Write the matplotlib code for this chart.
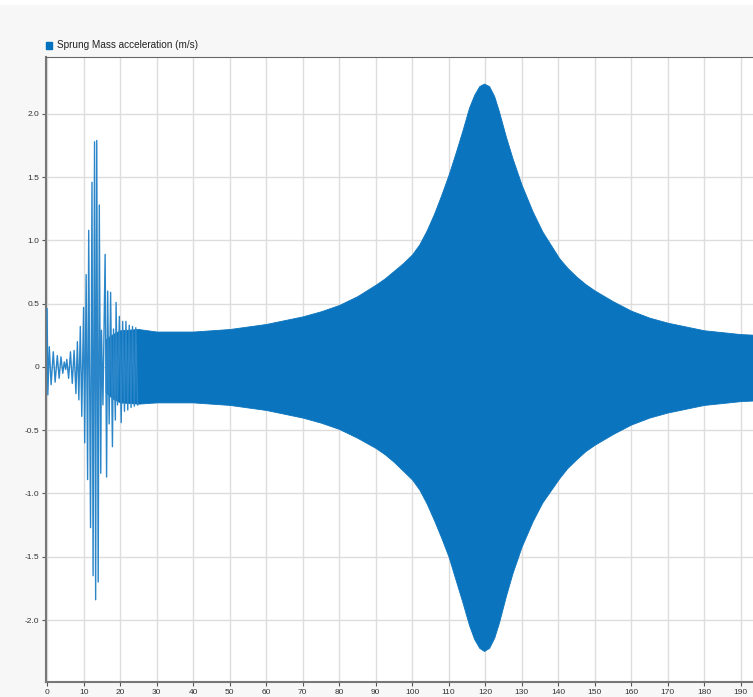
import numpy as np
import matplotlib
matplotlib.use("Agg")
import matplotlib.pyplot as plt
from matplotlib.patches import Rectangle

plt.rcParams['font.family'] = ['Liberation Sans', 'DejaVu Sans']

# start-up transient: successive peaks/troughs
trans_t = [0.0, 0.2, 0.6, 1.1, 1.7, 2.2, 2.8, 3.3, 3.8, 4.3, 4.7, 5.1, 5.4, 5.9,
           6.4, 6.9, 7.4, 7.9, 8.3, 8.7, 9.1, 9.5, 10.0, 10.3, 10.7, 11.1, 11.4,
           11.9, 12.3, 12.6, 13.0, 13.3, 13.6, 14.0, 14.3, 14.7, 14.9, 15.3,
           15.9, 16.3, 16.6, 17.0, 17.4, 17.9, 18.2, 18.7, 18.9, 19.3, 19.8,
           20.3, 20.7, 21.2, 21.6, 22.1, 22.5, 23.0, 23.4, 23.9, 24.3, 24.8]
trans_v = [0.46, -0.22, 0.16, -0.14, 0.12, -0.12, 0.09, -0.09, 0.08, -0.05,
           0.04, -0.02, 0.06, -0.09, 0.12, -0.13, 0.13, -0.21, 0.20, -0.26,
           0.32, -0.39, 0.47, -0.60, 0.73, -0.89, 1.08, -1.27, 1.46, -1.65,
           1.78, -1.84, 1.79, -1.70, 1.28, -0.84, 0.29, -0.30, 0.89, -0.87,
           0.60, -0.45, 0.59, -0.63, 0.30, -0.42, 0.51, -0.30, 0.40, -0.44,
           0.36, -0.35, 0.36, -0.34, 0.33, -0.32, 0.32, -0.31, 0.31, -0.30]

# dense oscillation band: upper / lower envelope
band_t = [16, 18, 20, 25, 30, 40, 50, 60, 70, 75, 80, 85, 90, 92.5, 95,
          97.5, 100, 102, 104, 106, 108, 110, 112, 113.8, 115.6, 117, 118.4,
          119.7, 121.1, 122.5, 123.8, 125.7, 127.5, 130, 133, 135.7, 140.3,
          142.5, 145, 147.5, 150, 155, 160, 165, 170, 175, 180, 185, 190, 193.5]
band_hi = [0.22, 0.26, 0.29, 0.30, 0.28, 0.28, 0.30, 0.34, 0.40, 0.44, 0.49,
           0.56, 0.65, 0.70, 0.76, 0.82, 0.89, 0.97, 1.08, 1.21, 1.36, 1.52,
           1.70, 1.87, 2.05, 2.15, 2.22, 2.24, 2.22, 2.14, 2.02, 1.82, 1.65,
           1.44, 1.23, 1.07, 0.86, 0.785, 0.715, 0.655, 0.605, 0.52, 0.445,
           0.39, 0.35, 0.32, 0.29, 0.275, 0.26, 0.255]
band_lo = [-0.20, -0.25, -0.28, -0.29, -0.28, -0.28, -0.30, -0.34, -0.40,
           -0.44, -0.49, -0.56, -0.64, -0.69, -0.75, -0.82, -0.89, -0.97,
           -1.08, -1.21, -1.35, -1.50, -1.69, -1.86, -2.04, -2.15, -2.22,
           -2.245, -2.22, -2.14, -2.02, -1.81, -1.63, -1.42, -1.22, -1.07,
           -0.88, -0.80, -0.73, -0.665, -0.615, -0.53, -0.455, -0.40, -0.36,
           -0.33, -0.30, -0.285, -0.27, -0.265]

xticks = list(range(0, 200, 10))
yticks = [-2.0, -1.5, -1.0, -0.5, 0, 0.5, 1.0, 1.5, 2.0]
ytick_labels = ["-2.0", "-1.5", "-1.0", "-0.5", "0", "0.5", "1.0", "1.5", "2.0"]
legend_label = "Sprung Mass acceleration (m/s)"

blue = '#0072BD'

fig = plt.figure(figsize=(7.53, 6.97), dpi=100, facecolor='#f7f7f7')
ax = fig.add_axes([46/753, 1 - 682/697, 1 - 46/753, (682 - 57)/697])
ax.set_facecolor('white')

ax.fill_between(band_t, band_lo, band_hi, color='#0b74be', lw=0.6,
                edgecolor='#0b74be', zorder=3)
ax.plot(trans_t, trans_v, color='#2a86c9', lw=1.0, zorder=4)

ax.set_xlim(-0.3, 193.4)
ax.set_ylim(-2.49, 2.45)
ax.set_xticks(xticks)
ax.set_xticklabels([str(x) for x in xticks])
ax.set_yticks(yticks)
ax.set_yticklabels(ytick_labels)

ax.grid(True, color='#dddddd', lw=1.0, zorder=0)
ax.set_axisbelow(True)
ax.tick_params(axis='both', labelsize=6, colors='#555555', labelcolor='#333333',
               length=3, width=0.8, pad=2, direction='out')

ax.spines['right'].set_visible(False)
ax.spines['top'].set_color('#666666')
ax.spines['top'].set_linewidth(0.8)
for s in ('left', 'bottom'):
    ax.spines[s].set_color('#777777')
    ax.spines[s].set_linewidth(1.5)

# legend entry above the plot
fig.patches.append(Rectangle((46/753, 1 - 48.5/697), 6.5/753, 6.5/697,
                             transform=fig.transFigure, color=blue))
fig.text(57/753, 1 - 45/697, legend_label, fontsize=7.2, color='#222222',
         va='center', ha='left')
# thin white strip at the very top
fig.patches.append(Rectangle((0, 1 - 4/697), 1, 4/697,
                             transform=fig.transFigure, color='white'))

fig.savefig('out.png', dpi=100, facecolor=fig.get_facecolor())
